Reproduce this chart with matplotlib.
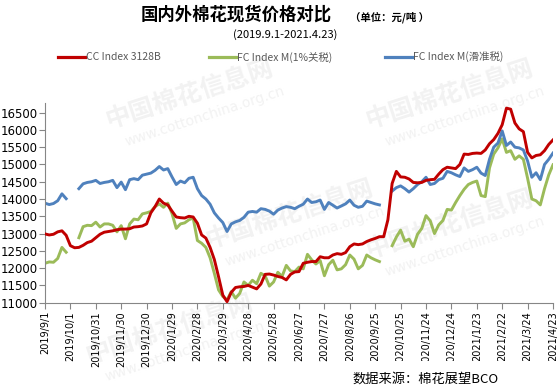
import numpy as np
import pandas as pd
import matplotlib
matplotlib.use('Agg')
import matplotlib.pyplot as plt
from matplotlib.lines import Line2D
from matplotlib.patches import Rectangle

nan = np.nan

# sample dates every 5 days, 2019/9/1 - 2021/4/23
dates = pd.date_range('2019-09-01', '2021-04-23', freq='5D')

# CC Index 3128B
cc_3128b = [
    12990, 12960, 12980, 13050, 13080, 12950, 12650, 12590, 12600, 12660,
    12740, 12780, 12880, 12980, 13040, 13060, 13080, 13110, 13130, 13130,
    13140, 13190, 13200, 13220, 13280, 13600, 13780, 14000, 13880, 13830,
    13650, 13480, 13460, 13450, 13500, 13480, 13300, 12960, 12870, 12600,
    12250, 11750, 11220, 11030, 11300, 11440, 11460, 11470, 11500, 11450,
    11400, 11540, 11820, 11830, 11800, 11760, 11730, 11660, 11820, 11890,
    11900, 12140, 12170, 12190, 12190, 12330, 12300, 12300, 12380, 12420,
    12400, 12450, 12620, 12700, 12680, 12700, 12770, 12820, 12860, 12910,
    12910, 13400, 14450, 14800, 14640, 14630, 14580, 14480, 14470, 14480,
    14540, 14560, 14570, 14720, 14850, 14920, 14900, 14880, 15000, 15300,
    15290, 15320, 15330, 15320, 15420, 15600, 15720, 15900, 16150, 16630,
    16600, 16200, 16030, 15950, 15350, 15190, 15260, 15280, 15400, 15580,
    15710]

# FC Index M (sliding-scale tariff)
fc_m_slide = [
    13880, 13840, 13870, 13950, 14150, 14010, nan, nan, 14300, 14440,
    14480, 14500, 14540, 14450, 14480, 14500, 14540, 14330, 14490, 14270,
    14560, 14590, 14560, 14690, 14720, 14750, 14830, 14940, 14840, 14880,
    14640, 14420, 14520, 14470, 14600, 14630, 14300, 14100, 14000, 13850,
    13600, 13450, 13320, 13060, 13280, 13340, 13380, 13470, 13620, 13640,
    13620, 13720, 13700, 13650, 13560, 13680, 13740, 13780, 13760, 13720,
    13790, 13850, 14000, 13900, 13920, 13970, 13700, 13900, 13820, 13740,
    13800, 13860, 13970, 13820, 13760, 13790, 13940, 13900, 13860, 13830,
    nan, nan, 14230, 14330, 14380, 14300, 14200, 14300, 14420, 14500,
    14630, 14420, 14450, 14560, 14600, 14800, 14760, 14700, 14650, 14900,
    14800, 14850, 14920, 14750, 14680, 15150, 15500, 15620, 15970, 15550,
    15650, 15500, 15480, 15420, 15100, 14630, 14760, 14560, 15000, 15150,
    15330]

# FC Index M (1% tariff)
fc_m_1pct = [
    12140, 12180, 12170, 12280, 12600, 12460, nan, nan, 12880, 13200,
    13240, 13230, 13330, 13190, 13280, 13280, 13240, 13050, 13230, 12850,
    13280, 13420, 13400, 13570, 13600, 13640, 13780, 13860, 13760, 13880,
    13580, 13150, 13280, 13310, 13400, 13450, 12800, 12720, 12600, 12300,
    11850, 11370, 11180, 11080, 11320, 11130, 11270, 11600, 11500, 11650,
    11550, 11850, 11780, 11480, 11600, 11880, 11760, 12080, 11920, 11900,
    12030, 11980, 12400, 12240, 12120, 12220, 11780, 12100, 12230, 11950,
    11980, 12100, 12380, 12260, 11980, 12080, 12380, 12300, 12240, 12190,
    nan, nan, 12650, 12900, 13100, 12780, 12840, 12620, 12980, 13150,
    13520, 13370, 13000, 13250, 13380, 13700, 13680, 13900, 14100, 14280,
    14420, 14480, 14520, 14100, 14070, 14900, 15300, 15480, 15740, 15350,
    15400, 15150, 15250, 15150, 14600, 14000, 13950, 13830, 14300, 14700,
    14990]

series_names = ['CC Index 3128B', 'FC Index M(1%关税)', 'FC Index M(滑准税)']
series_colors = ['#C00000', '#9BBB59', '#4F81BD']

tick_dates = pd.date_range('2019-09-01', '2021-04-23', freq='30D')
tick_labels = [f'{d.year}/{d.month}/{d.day}' for d in tick_dates]

cjk = ['Noto Sans CJK SC', 'DejaVu Sans']
plt.rcParams['font.family'] = 'DejaVu Sans'

W, H = 559, 390
fig = plt.figure(figsize=(W / 100, H / 100), dpi=100)

def fx(px):
    return px / W

def fy(py):
    return 1 - py / H

# faint watermarks
wm = [(190, 95), (450, 95), (290, 215), (450, 225), (170, 330)]
for x, y in wm:
    fig.text(fx(x), fy(y), '中国棉花信息网', family=cjk, fontsize=18, fontweight='bold',
             color='#f2f2f2', rotation=18, ha='center', va='center', zorder=-2)
    fig.text(fx(x + 15), fy(y + 22), 'www.cottonchina.org.cn', fontsize=10,
             color='#f2f2f2', rotation=18, ha='center', va='center', zorder=-2)

ax = fig.add_axes([fx(45), fy(302.7), fx(553) - fx(45), fy(103.3) - fy(302.7)])
ax.set_facecolor('none')

ax.plot(dates, cc_3128b, color=series_colors[0], lw=2.1, zorder=3)
ax.plot(dates, fc_m_1pct, color=series_colors[1], lw=2.1, zorder=2)
ax.plot(dates, fc_m_slide, color=series_colors[2], lw=2.1, zorder=2)

ax.set_xlim(tick_dates[0], tick_dates[-1])
ax.set_ylim(11000, 16770)
ax.set_yticks(np.arange(11000, 16501, 500))
ax.set_xticks(tick_dates)
ax.set_xticklabels(tick_labels, rotation=90, fontsize=7)
ax.tick_params(axis='y', labelsize=8.5, length=4, color='#868686', pad=1.5)
ax.tick_params(axis='x', length=4, color='#868686', pad=2)
for s in ['top', 'right']:
    ax.spines[s].set_visible(False)
for s in ['left', 'bottom']:
    ax.spines[s].set_color('#868686')

# titles
fig.text(fx(236.5), fy(15), '国内外棉花现货价格对比', family=cjk, fontsize=12.5,
         fontweight='bold', ha='center', va='center')
fig.text(fx(350), fy(17), '（单位：元/吨 ）', family=cjk, fontsize=7.5,
         fontweight='bold', ha='left', va='center')
fig.text(fx(285), fy(35), '(2019.9.1-2021.4.23)', family=cjk, fontsize=8,
         ha='center', va='center')

# legend
legend_x = [58, 209, 385]
for x0, name, c in zip(legend_x, series_names, series_colors):
    fig.add_artist(Line2D([fx(x0), fx(x0 + 27)], [fy(57), fy(57)], color=c, lw=2.3))
    fig.text(fx(x0 + 28), fy(57), name, family=cjk, fontsize=7.5, color='#595959',
             ha='left', va='center')

# source box (covers the end of the lower tick labels, as in the original)
fig.add_artist(Rectangle((fx(342), 0), 1 - fx(342), fy(361), facecolor='white',
                         edgecolor='none', transform=fig.transFigure, zorder=1))
fig.text(fx(426), fy(379), '数据来源：棉花展望BCO', family=cjk, fontsize=9.5,
         ha='center', va='center', zorder=4)

fig.savefig('out.png', dpi=100)
